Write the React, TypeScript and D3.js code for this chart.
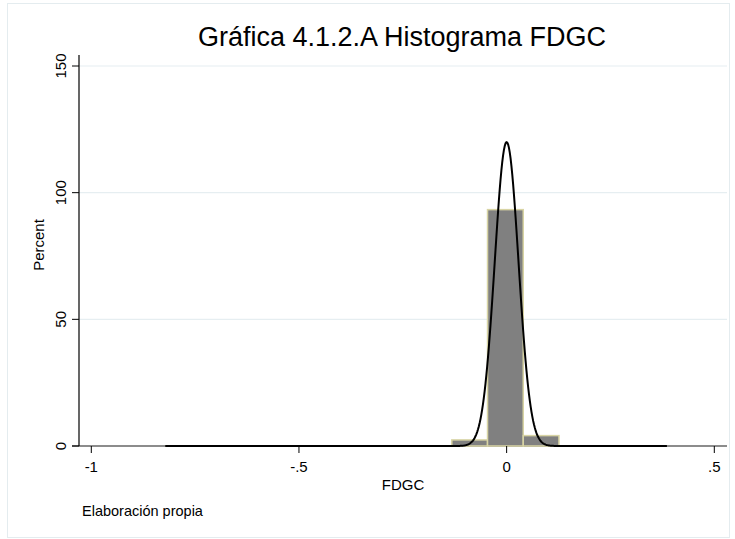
import React from "react";
import * as d3 from "d3";

// Histogram of FDGC (percent per bin) with a fitted normal density overlay
const binStart = -0.82;
const binWidth = 0.086;
const binPercents = [0.1, 0, 0, 0, 0, 0, 0, 0, 2.4, 93.3, 4.1, 0, 0, 0.1];

// Normal fit parameters
const fitMean = 0.0;
const fitSd = 0.0286;
const dataMin = -0.822;
const dataMax = 0.386;

const xTicks = [-1, -0.5, 0, 0.5];
const xTickLabels = ["-1", "-.5", "0", ".5"];
const yTicks = [0, 50, 100, 150];

const titleText = "Gráfica 4.1.2.A Histograma FDGC";
const xLabel = "FDGC";
const yLabel = "Percent";
const noteText = "Elaboración propia";

const W = 735;
const H = 539;
const FONT = "'Liberation Sans', Arial, sans-serif";

export default function App() {
  const x = d3.scaleLinear().domain([-1, 0.5]).range([91.3, 714.3]);
  const y = d3.scaleLinear().domain([0, 150]).range([446, 66]);
  const left = 79;
  const right = 727;
  const top = 55;

  const bins = binPercents.map((p, i) => ({
    x0: binStart + i * binWidth,
    x1: binStart + (i + 1) * binWidth,
    p,
  }));

  const norm = (v: number) =>
    (Math.exp(-0.5 * ((v - fitMean) / fitSd) ** 2) / (fitSd * Math.sqrt(2 * Math.PI))) *
    binWidth *
    100;
  const curvePts = d3.range(0, 601).map((i) => {
    const v = dataMin + ((dataMax - dataMin) * i) / 600;
    return [v, norm(v)] as [number, number];
  });
  const line = d3
    .line<[number, number]>()
    .x((d) => x(d[0]))
    .y((d) => y(d[1]));

  return (
    <svg
      width={W}
      height={H}
      style={{ position: "absolute", left: 0, top: 0 }}
      fontFamily={FONT}
    >
      <rect x={0} y={0} width={W} height={H} fill="#ffffff" />
      <rect x={7.5} y={3.5} width={722} height={534} fill="none" stroke="#e4ecef" strokeWidth={1} />

      {/* gridlines */}
      {yTicks
        .filter((t) => t > 0)
        .map((t) => (
          <line key={t} x1={left} x2={right} y1={y(t)} y2={y(t)} stroke="#e6eef1" strokeWidth={1.2} />
        ))}

      {/* x axis */}
      <line x1={72} x2={right} y1={y(0)} y2={y(0)} stroke="#666" strokeWidth={1.5} />

      {/* bars */}
      {bins.map((b, i) => (
        <rect
          key={i}
          x={x(b.x0)}
          y={y(b.p)}
          width={x(b.x1) - x(b.x0)}
          height={y(0) - y(b.p)}
          fill="#808080"
          stroke="#d8d4a4"
          strokeWidth={1.5}
        />
      ))}

      {/* normal density */}
      <path d={line(curvePts) || ""} fill="none" stroke="#000" strokeWidth={2} />

      {/* y axis */}
      <line x1={left} x2={left} y1={top} y2={y(0)} stroke="#000" strokeWidth={1.2} />
      {yTicks.map((t) => (
        <g key={t}>
          <line x1={72} x2={left} y1={y(t)} y2={y(t)} stroke="#000" strokeWidth={1} />
          <text
            transform={`translate(66,${y(t)}) rotate(-90)`}
            textAnchor="middle"
            fontSize={15}
            fill="#000"
          >
            {t}
          </text>
        </g>
      ))}
      <text transform={`translate(44,245) rotate(-90)`} textAnchor="middle" fontSize={15}>
        {yLabel}
      </text>

      {/* x ticks */}
      {xTicks.map((t, i) => (
        <g key={t}>
          <line x1={x(t)} x2={x(t)} y1={y(0)} y2={y(0) + 7} stroke="#000" strokeWidth={1} />
          <text x={x(t)} y={472} textAnchor="middle" fontSize={15}>
            {xTickLabels[i]}
          </text>
        </g>
      ))}
      <text x={403} y={490} textAnchor="middle" fontSize={15}>
        {xLabel}
      </text>

      <text x={402} y={46} textAnchor="middle" fontSize={27}>
        {titleText}
      </text>
      <text x={82} y={516} fontSize={14.5}>
        {noteText}
      </text>
    </svg>
  );
}
